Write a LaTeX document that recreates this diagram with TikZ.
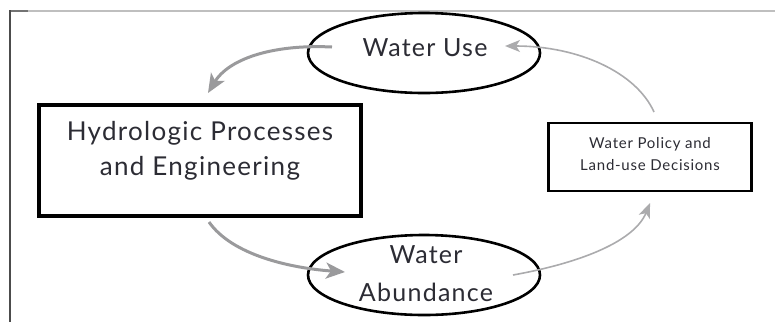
\documentclass[tikz,border=0pt]{standalone}
\usepackage{fontspec}
\setmainfont{Lato}
\newfontfamily\labelfont[LetterSpace=5]{Lato}
\usetikzlibrary{arrows.meta,shapes.geometric}
\definecolor{txt}{HTML}{2C2C34}
\definecolor{arrowdark}{HTML}{9A9A9C}
\definecolor{arrowlight}{HTML}{ABABAD}
\tikzset{
  stage/.style={ellipse, draw=black, line width=2.6pt, fill=white,
    minimum width=232pt, minimum height=80pt, inner sep=0pt},
  mainbox/.style={draw=black, line width=4pt, fill=white,
    minimum width=322pt, minimum height=111pt, inner sep=0pt},
  sidebox/.style={draw=black, line width=2.4pt, fill=white,
    minimum width=203pt, minimum height=68pt, inner sep=0pt},
  label/.style={text=txt, align=center, inner sep=0pt},
  heavyflow/.style={draw=arrowdark, line width=3pt,
    -{Stealth[length=19pt,width=16pt,inset=5pt]}},
  lightflow/.style={draw=arrowlight, line width=1.6pt,
    -{Stealth[length=15pt,width=12pt,inset=4pt]}},
}
\begin{document}
\begin{tikzpicture}[x=1pt,y=-1pt]
  \useasboundingbox (0,0) rectangle (775,322);
  % frame edges
  \draw[black!25, line width=1.6pt] (10,11) -- (775,11);
  \draw[black!55, line width=1.6pt] (10,11) -- (28,11);
  \draw[black!70, line width=1.6pt] (10,10) -- (10,322);

  % stages of the cycle
  \node[stage] (use) at (424,53) {};
  \node[stage] (abund) at (424,275) {};
  \node[mainbox] (hydro) at (200,160) {};
  \node[sidebox] (policy) at (650,157) {};

  % their texts
  \node[label, font=\labelfont\fontsize{25}{27}\selectfont] (use-text) at (425,48) {Water Use};
  \node[label, font=\labelfont\fontsize{25}{38}\selectfont] (abund-text) at (426,274) {Water\\Abundance};
  \node[label, font=\labelfont\fontsize{26}{35}\selectfont] (hydro-text) at (200,151) {Hydrologic Processes\\and Engineering};
  \node[label, font=\labelfont\fontsize{15}{22}\selectfont] (policy-text) at (650,154) {Water Policy and\\Land-use Decisions};

  % arrow ends that sit inside the ellipses
  \coordinate (use-out) at (332,47);
  \coordinate (use-in) at (505,46);
  \coordinate (abund-in) at (345,272);
  \coordinate (abund-out) at (513,275);
  \coordinate (hydro-in) at (208,93);
  \coordinate (hydro-out) at (209,222);
  \coordinate (policy-in) at (650,203);
  \coordinate (policy-out) at (654,112);

  % flows
  \draw[heavyflow] (use-out) .. controls (270,44) and (228,60) .. (hydro-in);
  \draw[heavyflow] (hydro-out) .. controls (232,255) and (290,268) .. (abund-in);
  \draw[lightflow] (abund-out) .. controls (585,262) and (635,240) .. (policy-in);
  \draw[lightflow] (policy-out) .. controls (636,72) and (578,46) .. (use-in);
\end{tikzpicture}
\end{document}
